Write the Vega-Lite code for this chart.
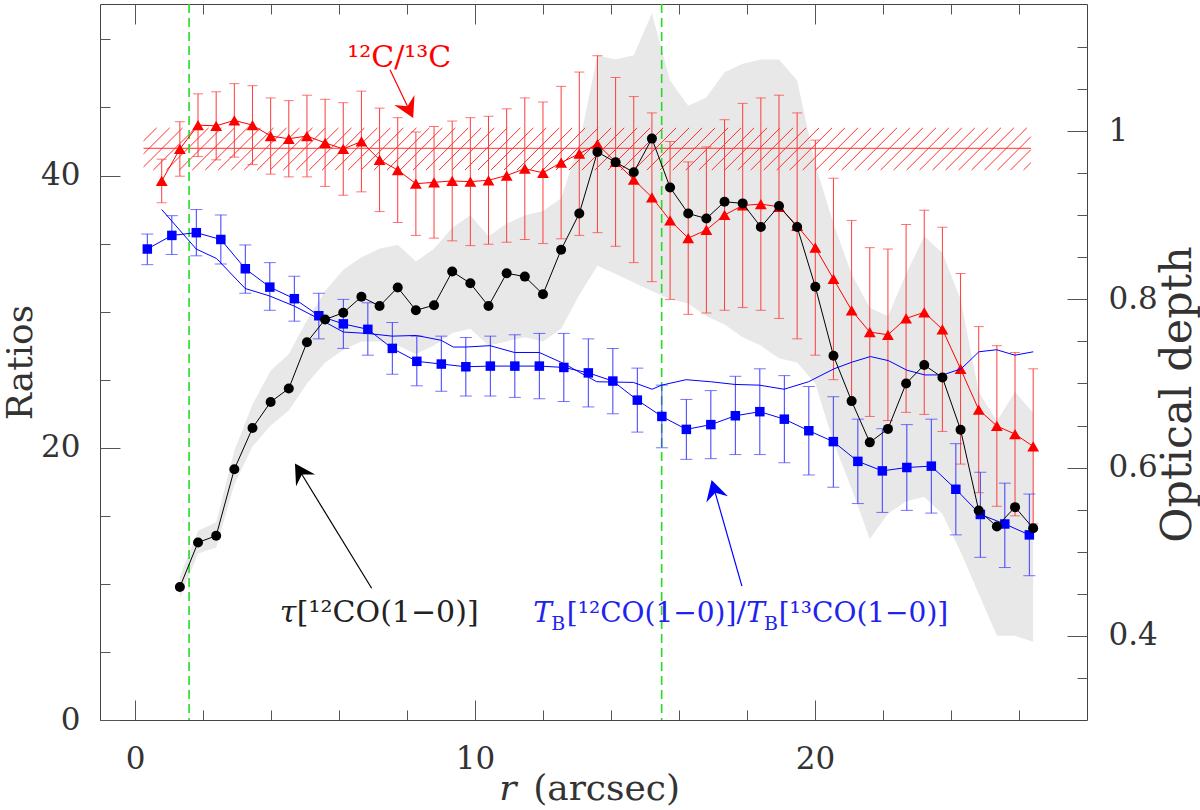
{
  "$schema": "https://vega.github.io/schema/vega-lite/v6.json",
  "width": 987,
  "height": 716,
  "autosize": "none",
  "padding": {"left": 100, "top": 4, "right": 113, "bottom": 90},
  "config": {
    "view": {"stroke": "#444", "strokeWidth": 1},
    "axis": {"grid": false}
  },
  "datasets": {
    "red": [
      {"r":0.785,"v":39.6,"lo":38.0,"hi":41.2},
      {"r":1.319,"v":41.95,"lo":39.95,"hi":43.95},
      {"r":1.853,"v":43.7,"lo":41.4,"hi":46.0},
      {"r":2.387,"v":43.65,"lo":41.15,"hi":46.15},
      {"r":2.921,"v":44.05,"lo":41.35,"hi":46.75},
      {"r":3.455,"v":43.7,"lo":40.8,"hi":46.6},
      {"r":3.989,"v":42.9,"lo":40.1,"hi":45.7},
      {"r":4.523,"v":42.7,"lo":39.9,"hi":45.5},
      {"r":5.057,"v":42.9,"lo":39.9,"hi":45.9},
      {"r":5.591,"v":42.4,"lo":39.2,"hi":45.6},
      {"r":6.125,"v":41.95,"lo":38.55,"hi":45.35},
      {"r":6.659,"v":42.5,"lo":38.8,"hi":46.2},
      {"r":7.193,"v":41.15,"lo":37.35,"hi":44.95},
      {"r":7.727,"v":40.4,"lo":36.55,"hi":44.25},
      {"r":8.261,"v":39.4,"lo":35.6,"hi":43.2},
      {"r":8.795,"v":39.5,"lo":35.4,"hi":43.6},
      {"r":9.329,"v":39.6,"lo":35.2,"hi":44.0},
      {"r":9.863,"v":39.55,"lo":34.85,"hi":44.25},
      {"r":10.397,"v":39.65,"lo":34.95,"hi":44.35},
      {"r":10.931,"v":40.0,"lo":35.1,"hi":44.9},
      {"r":11.465,"v":40.5,"lo":35.3,"hi":45.7},
      {"r":11.999,"v":40.2,"lo":35.0,"hi":45.4},
      {"r":12.533,"v":40.95,"lo":35.35,"hi":46.55},
      {"r":13.067,"v":41.6,"lo":35.6,"hi":47.6},
      {"r":13.601,"v":42.3,"lo":35.8,"hi":48.8},
      {"r":14.135,"v":41.0,"lo":34.8,"hi":47.2},
      {"r":14.669,"v":39.7,"lo":33.6,"hi":45.8},
      {"r":15.203,"v":38.4,"lo":32.2,"hi":44.6},
      {"r":15.737,"v":36.7,"lo":30.9,"hi":42.5},
      {"r":16.271,"v":35.4,"lo":29.8,"hi":41.0},
      {"r":16.805,"v":36.0,"lo":29.9,"hi":42.1},
      {"r":17.339,"v":37.1,"lo":30.1,"hi":44.1},
      {"r":17.873,"v":37.8,"lo":30.3,"hi":45.3},
      {"r":18.407,"v":37.9,"lo":30.1,"hi":45.7},
      {"r":18.941,"v":37.7,"lo":29.5,"hi":45.9},
      {"r":19.475,"v":36.3,"lo":28.0,"hi":44.6},
      {"r":20.009,"v":34.7,"lo":26.8,"hi":42.6},
      {"r":20.543,"v":32.4,"lo":25.0,"hi":39.8},
      {"r":21.077,"v":30.1,"lo":23.5,"hi":36.7},
      {"r":21.611,"v":28.5,"lo":22.3,"hi":34.7},
      {"r":22.145,"v":28.3,"lo":22.0,"hi":34.6},
      {"r":22.679,"v":29.5,"lo":22.6,"hi":36.4},
      {"r":23.213,"v":29.95,"lo":22.45,"hi":37.45},
      {"r":23.747,"v":28.7,"lo":21.2,"hi":36.2},
      {"r":24.281,"v":25.8,"lo":18.8,"hi":32.8},
      {"r":24.815,"v":22.8,"lo":16.7,"hi":28.9},
      {"r":25.349,"v":21.6,"lo":15.7,"hi":27.5},
      {"r":25.883,"v":21.0,"lo":15.0,"hi":27.0},
      {"r":26.417,"v":20.1,"lo":14.4,"hi":25.8}
    ],
    "blue": [
      {"r":0.362,"v":34.6,"lo":33.45,"hi":35.7},
      {"r":1.083,"v":35.6,"lo":34.2,"hi":37.05},
      {"r":1.803,"v":35.8,"lo":34.1,"hi":37.5},
      {"r":2.524,"v":35.3,"lo":33.5,"hi":37.1},
      {"r":3.244,"v":33.15,"lo":31.35,"hi":34.9},
      {"r":3.965,"v":31.8,"lo":30.1,"hi":33.6},
      {"r":4.686,"v":30.95,"lo":29.3,"hi":32.6},
      {"r":5.406,"v":29.7,"lo":28.0,"hi":31.35},
      {"r":6.127,"v":29.1,"lo":27.3,"hi":30.9},
      {"r":6.848,"v":28.7,"lo":26.8,"hi":30.65},
      {"r":7.568,"v":27.3,"lo":25.4,"hi":29.2},
      {"r":8.289,"v":26.35,"lo":24.55,"hi":28.2},
      {"r":9.009,"v":26.15,"lo":24.15,"hi":28.2},
      {"r":9.73,"v":25.95,"lo":23.8,"hi":28.1},
      {"r":10.451,"v":26.0,"lo":23.8,"hi":28.2},
      {"r":11.171,"v":26.0,"lo":23.7,"hi":28.3},
      {"r":11.892,"v":26.0,"lo":23.6,"hi":28.4},
      {"r":12.612,"v":25.9,"lo":23.4,"hi":28.4},
      {"r":13.333,"v":25.5,"lo":23.0,"hi":28.0},
      {"r":14.054,"v":24.9,"lo":22.5,"hi":27.3},
      {"r":14.774,"v":23.5,"lo":21.15,"hi":25.85},
      {"r":15.495,"v":22.3,"lo":20.0,"hi":24.6},
      {"r":16.216,"v":21.35,"lo":19.15,"hi":23.55},
      {"r":16.936,"v":21.7,"lo":19.2,"hi":24.2},
      {"r":17.657,"v":22.35,"lo":19.5,"hi":25.25},
      {"r":18.377,"v":22.65,"lo":19.5,"hi":25.8},
      {"r":19.098,"v":22.1,"lo":18.9,"hi":25.3},
      {"r":19.818,"v":21.25,"lo":18.0,"hi":24.5},
      {"r":20.539,"v":20.45,"lo":17.1,"hi":23.75},
      {"r":21.26,"v":19.0,"lo":15.9,"hi":22.1},
      {"r":21.98,"v":18.3,"lo":15.25,"hi":21.4},
      {"r":22.701,"v":18.55,"lo":15.4,"hi":21.7},
      {"r":23.421,"v":18.65,"lo":15.2,"hi":22.1},
      {"r":24.142,"v":16.95,"lo":13.6,"hi":20.3},
      {"r":24.863,"v":15.1,"lo":11.95,"hi":18.2},
      {"r":25.583,"v":14.4,"lo":11.2,"hi":17.4},
      {"r":26.304,"v":13.6,"lo":10.6,"hi":16.6}
    ],
    "tb": [
      {"r":0.785,"v":37.5},{"r":1.80,"v":34.6},{"r":2.40,"v":33.9},{"r":3.24,"v":31.7},
      {"r":3.96,"v":31.15},{"r":4.69,"v":30.4},{"r":5.39,"v":29.5},{"r":6.13,"v":28.5},
      {"r":6.83,"v":28.4},{"r":7.56,"v":28.2},{"r":8.27,"v":28.25},{"r":9.0,"v":27.9},
      {"r":9.36,"v":27.4},{"r":9.73,"v":27.4},{"r":10.44,"v":27.5},{"r":11.16,"v":27.0},
      {"r":11.89,"v":27.0},{"r":12.6,"v":26.2},{"r":13.58,"v":24.85},{"r":14.66,"v":24.8},
      {"r":15.21,"v":24.3},{"r":15.49,"v":24.6},{"r":16.21,"v":25.0},{"r":16.93,"v":24.85},
      {"r":17.65,"v":24.65},{"r":18.36,"v":24.6},{"r":19.09,"v":24.3},{"r":19.81,"v":24.85},
      {"r":20.56,"v":25.8},{"r":21.1,"v":26.3},{"r":21.63,"v":26.7},{"r":22.16,"v":26.4},
      {"r":22.7,"v":25.7},{"r":23.23,"v":25.35},{"r":23.76,"v":25.35},{"r":24.3,"v":25.8},
      {"r":24.82,"v":27.05},{"r":25.34,"v":27.2},{"r":25.88,"v":26.8},{"r":26.42,"v":27.05}
    ],
    "tau": [
      {"r":1.319,"tau":0.458},{"r":1.853,"tau":0.511},{"r":2.387,"tau":0.519},{"r":2.921,"tau":0.598},
      {"r":3.455,"tau":0.647},{"r":3.989,"tau":0.678},{"r":4.523,"tau":0.694},{"r":5.057,"tau":0.749},
      {"r":5.591,"tau":0.776},{"r":6.125,"tau":0.784},{"r":6.659,"tau":0.803},{"r":7.193,"tau":0.792},
      {"r":7.727,"tau":0.814},{"r":8.261,"tau":0.787},{"r":8.795,"tau":0.793},{"r":9.329,"tau":0.833},
      {"r":9.863,"tau":0.819},{"r":10.397,"tau":0.792},{"r":10.931,"tau":0.831},{"r":11.465,"tau":0.827},
      {"r":11.999,"tau":0.806},{"r":12.533,"tau":0.859},{"r":13.067,"tau":0.902},{"r":13.601,"tau":0.975},
      {"r":14.135,"tau":0.963},{"r":14.669,"tau":0.951},{"r":15.203,"tau":0.991},{"r":15.737,"tau":0.933},
      {"r":16.271,"tau":0.902},{"r":16.805,"tau":0.896},{"r":17.339,"tau":0.916},{"r":17.873,"tau":0.914},
      {"r":18.407,"tau":0.886},{"r":18.941,"tau":0.911},{"r":19.475,"tau":0.886},{"r":20.009,"tau":0.815},
      {"r":20.543,"tau":0.733},{"r":21.077,"tau":0.679},{"r":21.611,"tau":0.630},{"r":22.145,"tau":0.646},
      {"r":22.679,"tau":0.700},{"r":23.213,"tau":0.722},{"r":23.747,"tau":0.707},{"r":24.281,"tau":0.645},
      {"r":24.815,"tau":0.549},{"r":25.349,"tau":0.530},{"r":25.883,"tau":0.553},{"r":26.417,"tau":0.528}
    ],
    "band": [
      {"r":1.319,"lo":0.445,"hi":0.47},{"r":1.853,"lo":0.498,"hi":0.525},{"r":2.387,"lo":0.505,"hi":0.535},
      {"r":2.921,"lo":0.58,"hi":0.62},{"r":3.455,"lo":0.625,"hi":0.675},{"r":3.989,"lo":0.65,"hi":0.715},
      {"r":4.523,"lo":0.668,"hi":0.735},{"r":5.057,"lo":0.70,"hi":0.775},{"r":5.591,"lo":0.725,"hi":0.81},
      {"r":6.125,"lo":0.74,"hi":0.835},{"r":6.659,"lo":0.75,"hi":0.85},{"r":7.193,"lo":0.75,"hi":0.86},
      {"r":7.727,"lo":0.745,"hi":0.865},{"r":8.261,"lo":0.735,"hi":0.845},{"r":8.795,"lo":0.745,"hi":0.86},
      {"r":9.329,"lo":0.76,"hi":0.885},{"r":9.863,"lo":0.765,"hi":0.90},{"r":10.397,"lo":0.745,"hi":0.875},
      {"r":10.931,"lo":0.75,"hi":0.89},{"r":11.465,"lo":0.755,"hi":0.90},{"r":11.999,"lo":0.75,"hi":0.905},
      {"r":12.533,"lo":0.765,"hi":0.92},{"r":13.067,"lo":0.805,"hi":0.985},{"r":13.601,"lo":0.84,"hi":1.09},
      {"r":14.135,"lo":0.83,"hi":1.085},{"r":14.669,"lo":0.82,"hi":1.09},{"r":15.203,"lo":0.81,"hi":1.14},
      {"r":15.737,"lo":0.80,"hi":1.06},{"r":16.271,"lo":0.795,"hi":1.03},{"r":16.805,"lo":0.78,"hi":1.04},
      {"r":17.339,"lo":0.77,"hi":1.07},{"r":17.873,"lo":0.755,"hi":1.08},{"r":18.407,"lo":0.745,"hi":1.085},
      {"r":18.941,"lo":0.73,"hi":1.085},{"r":19.475,"lo":0.725,"hi":1.06},{"r":20.009,"lo":0.70,"hi":0.96},
      {"r":20.543,"lo":0.63,"hi":0.89},{"r":21.077,"lo":0.575,"hi":0.83},{"r":21.611,"lo":0.515,"hi":0.79},
      {"r":22.145,"lo":0.545,"hi":0.78},{"r":22.679,"lo":0.56,"hi":0.83},{"r":23.213,"lo":0.565,"hi":0.875},
      {"r":23.747,"lo":0.545,"hi":0.855},{"r":24.281,"lo":0.50,"hi":0.80},{"r":24.815,"lo":0.45,"hi":0.69},
      {"r":25.349,"lo":0.40,"hi":0.655},{"r":25.883,"lo":0.40,"hi":0.69},{"r":26.417,"lo":0.393,"hi":0.665}
    ],
    "hatch": [
      {"a":0.538,"b":1.782},{"a":0.92,"b":2.164},{"a":1.302,"b":2.546},{"a":1.684,"b":2.928},
      {"a":2.066,"b":3.31},{"a":2.448,"b":3.692},{"a":2.83,"b":4.074},{"a":3.212,"b":4.456},
      {"a":3.594,"b":4.838},{"a":3.976,"b":5.22},{"a":4.358,"b":5.602},{"a":4.74,"b":5.984},
      {"a":5.122,"b":6.366},{"a":5.504,"b":6.748},{"a":5.886,"b":7.13},{"a":6.268,"b":7.512},
      {"a":6.65,"b":7.894},{"a":7.032,"b":8.276},{"a":7.414,"b":8.658},{"a":7.796,"b":9.04},
      {"a":8.178,"b":9.422},{"a":8.56,"b":9.804},{"a":8.942,"b":10.186},{"a":9.324,"b":10.568},
      {"a":9.706,"b":10.95},{"a":10.088,"b":11.332},{"a":10.47,"b":11.714},{"a":10.852,"b":12.096},
      {"a":11.234,"b":12.478},{"a":11.616,"b":12.86},{"a":11.998,"b":13.242},{"a":12.38,"b":13.624},
      {"a":12.762,"b":14.006},{"a":13.144,"b":14.388},{"a":13.526,"b":14.77},{"a":13.908,"b":15.152},
      {"a":14.29,"b":15.534},{"a":14.672,"b":15.916},{"a":15.054,"b":16.298},{"a":15.436,"b":16.68},
      {"a":15.818,"b":17.062},{"a":16.2,"b":17.444},{"a":16.582,"b":17.826},{"a":16.964,"b":18.208},
      {"a":17.346,"b":18.59},{"a":17.728,"b":18.972},{"a":18.11,"b":19.354},{"a":18.492,"b":19.736},
      {"a":18.874,"b":20.118},{"a":19.256,"b":20.5},{"a":19.638,"b":20.882},{"a":20.02,"b":21.264},
      {"a":20.402,"b":21.646},{"a":20.784,"b":22.028},{"a":21.166,"b":22.41},{"a":21.548,"b":22.792},
      {"a":21.93,"b":23.174},{"a":22.312,"b":23.556},{"a":22.694,"b":23.938},{"a":23.076,"b":24.32},
      {"a":23.458,"b":24.702},{"a":23.84,"b":25.084},{"a":24.222,"b":25.466},{"a":24.604,"b":25.848},
      {"a":24.986,"b":26.23}
    ],
    "hatchends": [
      {"a":0.25,"ya":42.54,"b":0.636,"yb":43.5},
      {"a":0.25,"ya":41.59,"b":1.018,"yb":43.5},
      {"a":0.25,"ya":40.63,"b":1.4,"yb":43.5},
      {"a":25.368,"ya":40.4,"b":26.35,"yb":42.85},
      {"a":25.75,"ya":40.4,"b":26.35,"yb":41.9},
      {"a":26.132,"ya":40.4,"b":26.35,"yb":40.94}
    ],
    "cuts": [{"r":1.59},{"r":15.49}]
  },
  "layer": [
    {
      "data": {"name": "band"},
      "mark": {"type": "area", "color": "#e8e8e8", "opacity": 1},
      "encoding": {
        "x": {"field": "r", "type": "quantitative", "scale": {"domain": [-1.03, 28.0], "nice": false, "zero": false}, "axis": null},
        "y": {"field": "lo", "type": "quantitative", "scale": {"domain": [0.3, 1.151], "nice": false, "zero": false},
          "axis": {"orient": "right", "values": [0.35,0.45,0.5,0.55,0.65,0.7,0.75,0.85,0.9,0.95,1.05,1.1], "labels": false, "domain": false, "ticks": true, "tickSize": 10, "offset": -10, "tickColor": "#555", "title": null}},
        "y2": {"field": "hi"}
      }
    },
    {
      "layer": [
        {
          "data": {"name": "hatch"},
          "mark": {"type": "rule", "color": "#ff3030", "strokeWidth": 1},
          "encoding": {
            "x": {"field": "a", "type": "quantitative", "scale": {"domain": [-1.03, 28.0], "nice": false, "zero": false},
              "axis": {"orient": "bottom", "values": [0, 10, 20], "ticks": false, "domain": false, "labelPadding": 48, "labelBaseline": "alphabetic", "labelFlush": false, "labelFont": "DejaVu Serif", "labelFontSize": 31, "labelColor": "#333", "title": null}},
            "x2": {"field": "b"},
            "y": {"datum": 40.4, "type": "quantitative", "scale": {"domain": [0, 52.6], "nice": false, "zero": false},
              "axis": {"orient": "left", "values": [0, 20, 40], "ticks": false, "domain": false, "labelPadding": 20, "labelFlush": false, "labelFont": "DejaVu Serif", "labelFontSize": 31, "labelColor": "#333", "title": "Ratios", "titleFont": "DejaVu Serif", "titleFontSize": 36, "titleFontWeight": "normal", "titleColor": "#333", "titleAngle": 270, "titleBaseline": "alphabetic", "titleAlign": "center", "titleX": -69, "titleY": 358}},
            "y2": {"datum": 43.5}
          }
        },
        {
          "data": {"name": "hatchends"},
          "mark": {"type": "rule", "color": "#ff3030", "strokeWidth": 1},
          "encoding": {
            "x": {"field": "a", "type": "quantitative", "scale": {"domain": [-1.03, 28.0], "nice": false, "zero": false},
              "axis": {"orient": "bottom", "values": [0, 10, 20], "labels": false, "domain": false, "ticks": true, "tickSize": 20, "offset": -20, "tickColor": "#555", "title": null}},
            "x2": {"field": "b"},
            "y": {"field": "ya", "type": "quantitative", "scale": {"domain": [0, 52.6], "nice": false, "zero": false},
              "axis": {"orient": "left", "values": [0, 20, 40], "labels": false, "domain": false, "ticks": true, "tickSize": 20, "offset": -20, "tickColor": "#555", "title": null}},
            "y2": {"field": "yb"}
          }
        },
        {
          "data": {"values": [{}]},
          "mark": {"type": "rule", "color": "#ff3030", "strokeWidth": 1},
          "encoding": {
            "x": {"datum": 0.25, "type": "quantitative", "scale": {"domain": [-1.03, 28.0], "nice": false, "zero": false},
              "axis": {"orient": "bottom", "values": [2,4,6,8,12,14,16,18,22,24,26], "labels": false, "domain": false, "ticks": true, "tickSize": 10, "offset": -10, "tickColor": "#555", "title": null}},
            "x2": {"datum": 26.35},
            "y": {"datum": 42.0, "type": "quantitative", "scale": {"domain": [0, 52.6], "nice": false, "zero": false},
              "axis": {"orient": "left", "values": [5,10,15,25,30,35,45,50], "labels": false, "domain": false, "ticks": true, "tickSize": 10, "offset": -10, "tickColor": "#555", "title": null}}
          }
        },
        {
          "data": {"name": "cuts"},
          "mark": {"type": "rule", "color": "#22dd22", "strokeWidth": 1.6, "strokeDash": [9, 5]},
          "encoding": {
            "x": {"field": "r", "type": "quantitative", "scale": {"domain": [-1.03, 28.0], "nice": false, "zero": false},
              "axis": {"orient": "top", "values": [0, 10, 20], "labels": false, "domain": false, "ticks": true, "tickSize": 20, "offset": -20, "tickColor": "#555", "title": null}}
          }
        },
        {
          "data": {"name": "red"},
          "mark": {"type": "errorbar", "color": "#ff3b3b", "thickness": 1, "ticks": {"size": 10}},
          "encoding": {
            "x": {"field": "r", "type": "quantitative", "scale": {"domain": [-1.03, 28.0], "nice": false, "zero": false},
              "axis": {"orient": "top", "values": [2,4,6,8,12,14,16,18,22,24,26], "labels": false, "domain": false, "ticks": true, "tickSize": 10, "offset": -10, "tickColor": "#555", "title": null}},
            "y": {"field": "lo", "type": "quantitative", "scale": {"domain": [0, 52.6], "nice": false, "zero": false}, "axis": null},
            "y2": {"field": "hi"}
          }
        },
        {
          "data": {"name": "red"},
          "mark": {"type": "line", "color": "#ff0000", "strokeWidth": 1, "point": {"shape": "triangle-up", "size": 140, "filled": true, "color": "#ff0000", "opacity": 1}},
          "encoding": {
            "x": {"field": "r", "type": "quantitative", "scale": {"domain": [-1.03, 28.0], "nice": false, "zero": false}, "axis": null},
            "y": {"field": "v", "type": "quantitative", "scale": {"domain": [0, 52.6], "nice": false, "zero": false}, "axis": null}
          }
        },
        {
          "data": {"name": "blue"},
          "mark": {"type": "errorbar", "color": "#3b3bff", "thickness": 1, "ticks": {"size": 12}},
          "encoding": {
            "x": {"field": "r", "type": "quantitative", "scale": {"domain": [-1.03, 28.0], "nice": false, "zero": false}, "axis": null},
            "y": {"field": "lo", "type": "quantitative", "scale": {"domain": [0, 52.6], "nice": false, "zero": false}, "axis": null},
            "y2": {"field": "hi"}
          }
        },
        {
          "data": {"name": "tb"},
          "mark": {"type": "line", "color": "#0000ff", "strokeWidth": 1},
          "encoding": {
            "x": {"field": "r", "type": "quantitative", "scale": {"domain": [-1.03, 28.0], "nice": false, "zero": false}, "axis": null},
            "y": {"field": "v", "type": "quantitative", "scale": {"domain": [0, 52.6], "nice": false, "zero": false}, "axis": null}
          }
        },
        {
          "data": {"name": "blue"},
          "mark": {"type": "line", "color": "#0000ff", "strokeWidth": 1, "point": {"shape": "square", "size": 90, "filled": true, "color": "#0000ff", "opacity": 1}},
          "encoding": {
            "x": {"field": "r", "type": "quantitative", "scale": {"domain": [-1.03, 28.0], "nice": false, "zero": false}, "axis": null},
            "y": {"field": "v", "type": "quantitative", "scale": {"domain": [0, 52.6], "nice": false, "zero": false}, "axis": null}
          }
        },
        {
          "data": {"values": [{}]},
          "mark": {"type": "text", "text": "r", "font": "DejaVu Serif", "fontStyle": "italic", "fontSize": 36, "align": "left", "baseline": "alphabetic", "color": "#333"},
          "encoding": {
            "x": {"datum": 10.71, "type": "quantitative", "scale": {"domain": [-1.03, 28.0], "nice": false, "zero": false}, "axis": null},
            "y": {"datum": -5.9, "type": "quantitative", "scale": {"domain": [0, 52.6], "nice": false, "zero": false}, "axis": null}
          }
        },
        {
          "data": {"values": [{}]},
          "mark": {"type": "text", "text": "(arcsec)", "font": "DejaVu Serif", "fontSize": 36, "align": "left", "baseline": "alphabetic", "color": "#333"},
          "encoding": {
            "x": {"datum": 11.71, "type": "quantitative", "scale": {"domain": [-1.03, 28.0], "nice": false, "zero": false}, "axis": null},
            "y": {"datum": -5.9, "type": "quantitative", "scale": {"domain": [0, 52.6], "nice": false, "zero": false}, "axis": null}
          }
        },
        {
          "data": {"values": [{}]},
          "mark": {"type": "text", "text": "¹²C/¹³C", "font": "DejaVu Serif", "fontSize": 30, "align": "left", "baseline": "alphabetic", "color": "#ff0000"},
          "encoding": {
            "x": {"datum": 6.24, "type": "quantitative", "scale": {"domain": [-1.03, 28.0], "nice": false, "zero": false}, "axis": null},
            "y": {"datum": 48.0, "type": "quantitative", "scale": {"domain": [0, 52.6], "nice": false, "zero": false}, "axis": null}
          }
        },
        {
          "data": {"values": [{}]},
          "mark": {"type": "text", "text": "τ", "font": "DejaVu Serif", "fontStyle": "italic", "fontSize": 30, "align": "left", "baseline": "alphabetic", "color": "#222"},
          "encoding": {
            "x": {"datum": 4.26, "type": "quantitative", "scale": {"domain": [-1.03, 28.0], "nice": false, "zero": false}, "axis": null},
            "y": {"datum": 7.2, "type": "quantitative", "scale": {"domain": [0, 52.6], "nice": false, "zero": false}, "axis": null}
          }
        },
        {
          "data": {"values": [{}]},
          "mark": {"type": "text", "text": "[¹²CO(1−0)]", "font": "DejaVu Serif", "fontSize": 30, "align": "left", "baseline": "alphabetic", "color": "#222"},
          "encoding": {
            "x": {"datum": 4.76, "type": "quantitative", "scale": {"domain": [-1.03, 28.0], "nice": false, "zero": false}, "axis": null},
            "y": {"datum": 7.2, "type": "quantitative", "scale": {"domain": [0, 52.6], "nice": false, "zero": false}, "axis": null}
          }
        },
        {
          "data": {"values": [{}]},
          "mark": {"type": "text", "text": "T", "font": "DejaVu Serif", "fontStyle": "italic", "fontSize": 28, "align": "left", "baseline": "alphabetic", "color": "#2222ee"},
          "encoding": {
            "x": {"datum": 11.71, "type": "quantitative", "scale": {"domain": [-1.03, 28.0], "nice": false, "zero": false}, "axis": null},
            "y": {"datum": 7.18, "type": "quantitative", "scale": {"domain": [0, 52.6], "nice": false, "zero": false}, "axis": null}
          }
        },
        {
          "data": {"values": [{}]},
          "mark": {"type": "text", "text": "B", "font": "DejaVu Serif", "fontSize": 19, "align": "left", "baseline": "alphabetic", "color": "#2222ee"},
          "encoding": {
            "x": {"datum": 12.24, "type": "quantitative", "scale": {"domain": [-1.03, 28.0], "nice": false, "zero": false}, "axis": null},
            "y": {"datum": 6.6, "type": "quantitative", "scale": {"domain": [0, 52.6], "nice": false, "zero": false}, "axis": null}
          }
        },
        {
          "data": {"values": [{}]},
          "mark": {"type": "text", "text": "[¹²CO(1−0)]/", "font": "DejaVu Serif", "fontSize": 28, "align": "left", "baseline": "alphabetic", "color": "#2222ee"},
          "encoding": {
            "x": {"datum": 12.7, "type": "quantitative", "scale": {"domain": [-1.03, 28.0], "nice": false, "zero": false}, "axis": null},
            "y": {"datum": 7.18, "type": "quantitative", "scale": {"domain": [0, 52.6], "nice": false, "zero": false}, "axis": null}
          }
        },
        {
          "data": {"values": [{}]},
          "mark": {"type": "text", "text": "T", "font": "DejaVu Serif", "fontStyle": "italic", "fontSize": 28, "align": "left", "baseline": "alphabetic", "color": "#2222ee"},
          "encoding": {
            "x": {"datum": 17.98, "type": "quantitative", "scale": {"domain": [-1.03, 28.0], "nice": false, "zero": false}, "axis": null},
            "y": {"datum": 7.18, "type": "quantitative", "scale": {"domain": [0, 52.6], "nice": false, "zero": false}, "axis": null}
          }
        },
        {
          "data": {"values": [{}]},
          "mark": {"type": "text", "text": "B", "font": "DejaVu Serif", "fontSize": 19, "align": "left", "baseline": "alphabetic", "color": "#2222ee"},
          "encoding": {
            "x": {"datum": 18.5, "type": "quantitative", "scale": {"domain": [-1.03, 28.0], "nice": false, "zero": false}, "axis": null},
            "y": {"datum": 6.6, "type": "quantitative", "scale": {"domain": [0, 52.6], "nice": false, "zero": false}, "axis": null}
          }
        },
        {
          "data": {"values": [{}]},
          "mark": {"type": "text", "text": "[¹³CO(1−0)]", "font": "DejaVu Serif", "fontSize": 28, "align": "left", "baseline": "alphabetic", "color": "#2222ee"},
          "encoding": {
            "x": {"datum": 18.93, "type": "quantitative", "scale": {"domain": [-1.03, 28.0], "nice": false, "zero": false}, "axis": null},
            "y": {"datum": 7.18, "type": "quantitative", "scale": {"domain": [0, 52.6], "nice": false, "zero": false}, "axis": null}
          }
        },
        {
          "data": {"values": [{}]},
          "mark": {"type": "rule", "color": "#ff0000", "strokeWidth": 1.2},
          "encoding": {
            "x": {"datum": 7.5, "type": "quantitative", "scale": {"domain": [-1.03, 28.0], "nice": false, "zero": false}, "axis": null},
            "y": {"datum": 47.77, "type": "quantitative", "scale": {"domain": [0, 52.6], "nice": false, "zero": false}, "axis": null},
            "x2": {"datum": 8.02},
            "y2": {"datum": 45.05}
          }
        },
        {
          "data": {"values": [{}]},
          "mark": {"type": "point", "shape": "M0,-1L0.9,0.6L0,0.05L-0.9,0.6Z", "size": 625, "angle": 154, "filled": true, "color": "#ff0000", "opacity": 1},
          "encoding": {
            "x": {"datum": 8.02, "type": "quantitative", "scale": {"domain": [-1.03, 28.0], "nice": false, "zero": false}, "axis": null},
            "y": {"datum": 45.05, "type": "quantitative", "scale": {"domain": [0, 52.6], "nice": false, "zero": false}, "axis": null}
          }
        },
        {
          "data": {"values": [{}]},
          "mark": {"type": "rule", "color": "#000000", "strokeWidth": 1.2},
          "encoding": {
            "x": {"datum": 6.96, "type": "quantitative", "scale": {"domain": [-1.03, 28.0], "nice": false, "zero": false}, "axis": null},
            "y": {"datum": 9.68, "type": "quantitative", "scale": {"domain": [0, 52.6], "nice": false, "zero": false}, "axis": null},
            "x2": {"datum": 4.90},
            "y2": {"datum": 18.07}
          }
        },
        {
          "data": {"values": [{}]},
          "mark": {"type": "point", "shape": "M0,-1L0.9,0.6L0,0.05L-0.9,0.6Z", "size": 625, "angle": 328, "filled": true, "color": "#000000", "opacity": 1},
          "encoding": {
            "x": {"datum": 4.90, "type": "quantitative", "scale": {"domain": [-1.03, 28.0], "nice": false, "zero": false}, "axis": null},
            "y": {"datum": 18.07, "type": "quantitative", "scale": {"domain": [0, 52.6], "nice": false, "zero": false}, "axis": null}
          }
        },
        {
          "data": {"values": [{}]},
          "mark": {"type": "rule", "color": "#0000ff", "strokeWidth": 1.2},
          "encoding": {
            "x": {"datum": 17.85, "type": "quantitative", "scale": {"domain": [-1.03, 28.0], "nice": false, "zero": false}, "axis": null},
            "y": {"datum": 9.83, "type": "quantitative", "scale": {"domain": [0, 52.6], "nice": false, "zero": false}, "axis": null},
            "x2": {"datum": 17.06},
            "y2": {"datum": 16.74}
          }
        },
        {
          "data": {"values": [{}]},
          "mark": {"type": "point", "shape": "M0,-1L0.9,0.6L0,0.05L-0.9,0.6Z", "size": 625, "angle": 344, "filled": true, "color": "#0000ff", "opacity": 1},
          "encoding": {
            "x": {"datum": 17.06, "type": "quantitative", "scale": {"domain": [-1.03, 28.0], "nice": false, "zero": false}, "axis": null},
            "y": {"datum": 16.74, "type": "quantitative", "scale": {"domain": [0, 52.6], "nice": false, "zero": false}, "axis": null}
          }
        }
      ],
      "resolve": {"axis": {"x": "independent", "y": "independent"}}
    },
    {
      "layer": [
        {
          "data": {"name": "tau"},
          "mark": {"type": "line", "color": "#000000", "strokeWidth": 1},
          "encoding": {
            "x": {"field": "r", "type": "quantitative", "scale": {"domain": [-1.03, 28.0], "nice": false, "zero": false}, "axis": null},
            "y": {"field": "tau", "type": "quantitative", "scale": {"domain": [0.3, 1.151], "nice": false, "zero": false},
              "axis": {"orient": "right", "values": [0.4, 0.6, 0.8, 1], "labels": false, "domain": false, "ticks": true, "tickSize": 20, "offset": -20, "tickColor": "#555", "title": null}}
          }
        },
        {
          "data": {"name": "tau"},
          "mark": {"type": "point", "shape": "circle", "size": 100, "filled": true, "color": "#000000", "opacity": 1},
          "encoding": {
            "x": {"field": "r", "type": "quantitative", "scale": {"domain": [-1.03, 28.0], "nice": false, "zero": false}, "axis": null},
            "y": {"field": "tau", "type": "quantitative", "scale": {"domain": [0.3, 1.151], "nice": false, "zero": false},
              "axis": {"orient": "right", "values": [0.4, 0.6, 0.8, 1], "format": "~g", "ticks": false, "domain": false, "labelPadding": 21, "labelFlush": false, "labelFont": "DejaVu Serif", "labelFontSize": 31, "labelColor": "#333", "title": "Optical depth", "titleFont": "DejaVu Serif", "titleFontSize": 43, "titleFontWeight": "normal", "titleColor": "#333", "titleAngle": 270, "titleBaseline": "alphabetic", "titleAlign": "center", "titleX": 103, "titleY": 390}}
          }
        }
      ],
      "resolve": {"axis": {"x": "independent", "y": "independent"}}
    }
  ],
  "resolve": {"scale": {"y": "independent"}, "axis": {"x": "independent", "y": "independent"}}
}
